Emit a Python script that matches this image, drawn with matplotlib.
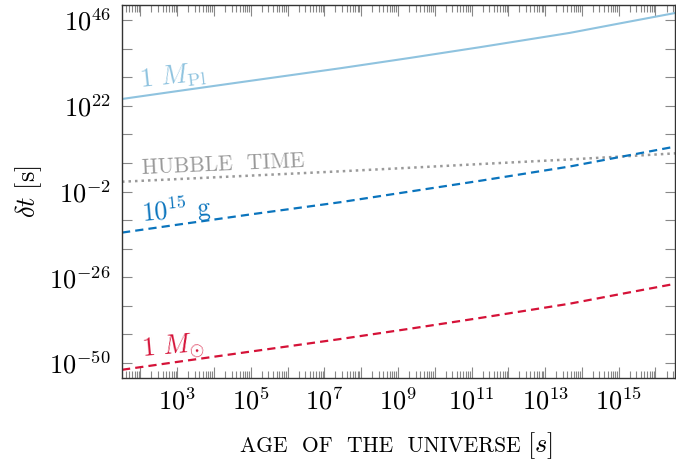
import numpy as np
import matplotlib
matplotlib.use("Agg")
import matplotlib.pyplot as plt
from matplotlib.ticker import FixedLocator, FuncFormatter, NullLocator, LogLocator

plt.rcParams['font.family'] = 'serif'
plt.rcParams['font.serif'] = ['cmr10']
plt.rcParams['mathtext.fontset'] = 'cm'
plt.rcParams['axes.formatter.use_mathtext'] = True

# log10 of the age of the universe [s]
log_age = [1.5, 3.0, 5.0, 7.43, 9.33, 11.23, 13.67, 15.0, 16.55]
# log10 of delta t [s]
planck = [23.9, 26.1, 29.0, 32.5, 35.4, 38.4, 42.4, 45.0, 48.0]
hubble = [0.74, 1.47, 2.45, 3.65, 4.65, 5.68, 6.98, 7.75, 8.69]
pbh_1e15 = [-13.5, -11.3, -8.4, -5.0, -2.0, 1.0, 5.0, 7.6, 10.6]
solar = [-51.9, -49.7, -46.8, -43.3, -40.4, -37.4, -33.4, -30.8, -27.8]

x = 10.0**np.array(log_age)

fig = plt.figure(figsize=(6.76, 4.67), dpi=100)
ax = fig.add_axes([0.1805, 0.1906, 0.818, 0.7994])

ax.plot(x, 10.0**np.array(planck), color='#8fc3df', lw=1.5, solid_capstyle='butt')
ax.plot(x, 10.0**np.array(hubble), color='#9a9a9a', lw=1.8, linestyle=(0, (1, 1.6)))
ax.plot(x, 10.0**np.array(pbh_1e15), color='#0a74bd', lw=1.6, linestyle=(0, (3.7, 2.3)))
ax.plot(x, 10.0**np.array(solar), color='#d51238', lw=1.6, linestyle=(0, (3.7, 2.3)))

ax.set_xscale('log')
ax.set_yscale('log')
ax.set_xlim(10**1.5, 10**16.53)
ax.set_ylim(10**-54.2, 10**50.3)

# ticks
ax.xaxis.set_major_locator(FixedLocator(10.0**np.arange(1, 18)))
ax.xaxis.set_minor_locator(LogLocator(base=10, subs=np.arange(2, 10), numticks=100))
ax.xaxis.set_major_formatter(FuncFormatter(
    lambda v, p: r'$10^{%d}$' % round(np.log10(v)) if round(np.log10(v)) % 2 == 1 and 3 <= round(np.log10(v)) <= 15 else ''))
ax.yaxis.set_major_locator(FixedLocator(10.0**np.arange(-58, 58, 8)))
ax.yaxis.set_minor_locator(NullLocator())
ax.yaxis.set_major_formatter(FuncFormatter(
    lambda v, p: r'$10^{%d}$' % round(np.log10(v)) if (round(np.log10(v)) + 50) % 24 == 0 else ''))

ax.tick_params(which='both', direction='in', top=True, right=True, colors='#888888',
               labelcolor='black', labelsize=19, width=0.8)
ax.tick_params(axis='x', which='major', length=8, pad=7)
ax.tick_params(axis='x', which='minor', length=5)
ax.tick_params(axis='y', which='major', length=7.5, pad=8)
for s in ax.spines.values():
    s.set_color('#333333')
    s.set_linewidth(1.0)

ax.set_ylabel(r'$\delta t\ [\mathrm{s}]$', fontsize=19, labelpad=4)
fig.text(0.771, 0.032, 'AGE  OF  THE  UNIVERSE', fontsize=15.5, ha='right', va='baseline')
fig.text(0.779, 0.032, r'$[s]$', fontsize=19, ha='left', va='baseline')

ax.text(0.033, 0.779, r'1 $M_{\mathrm{Pl}}$', transform=ax.transAxes, color='#8fc3df',
        fontsize=19, rotation=6, rotation_mode='anchor', ha='left', va='baseline')
ax.text(0.036, 0.546, 'HUBBLE  TIME', transform=ax.transAxes, color='#9a9a9a',
        fontsize=15.5, rotation=2.5, rotation_mode='anchor', ha='left', va='baseline')
ax.text(0.036, 0.418, r'$10^{15}$ g', transform=ax.transAxes, color='#0a74bd',
        fontsize=18.5, rotation=5, rotation_mode='anchor', ha='left', va='baseline')
ax.text(0.036, 0.057, r'1 $M_{\odot}$', transform=ax.transAxes, color='#d51238',
        fontsize=19, rotation=5, rotation_mode='anchor', ha='left', va='baseline')

fig.savefig('out.png', dpi=100)
